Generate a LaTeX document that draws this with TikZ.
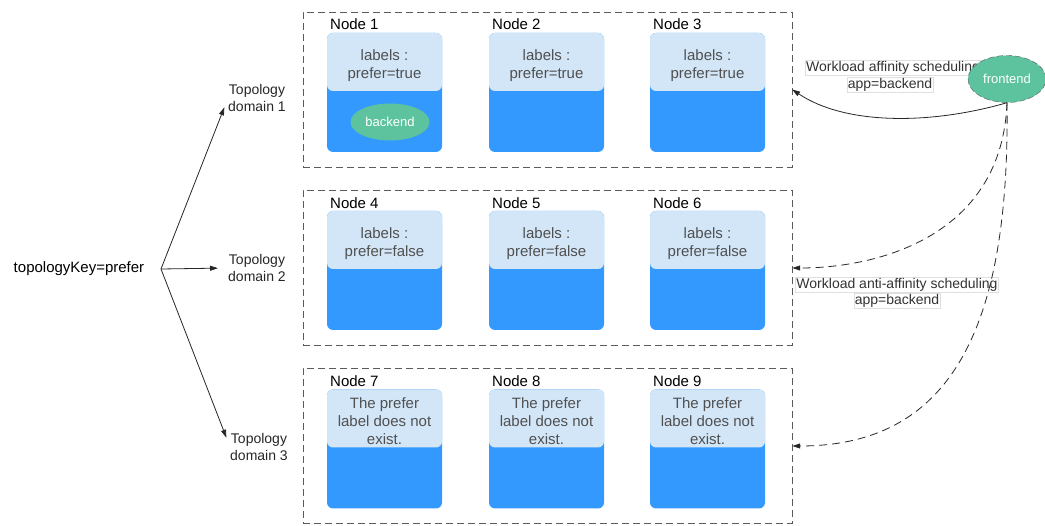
\documentclass[tikz,border=0pt]{standalone}
\usepackage{fontspec}
\setmainfont{Liberation Sans}
\usetikzlibrary{arrows.meta,shapes.geometric,positioning}
\definecolor{cardblue}{HTML}{3399FF}
\definecolor{toplight}{HTML}{D2E6F8}
\definecolor{podgreen}{HTML}{5CC39E}
\definecolor{txtgray}{HTML}{505050}
\definecolor{linegray}{HTML}{5A5A5A}
\tikzset{
  domainbox/.style={draw=linegray, dash pattern=on 7pt off 4pt, minimum width=489pt, minimum height=155pt, inner sep=0pt},
  card/.style={fill=cardblue, rounded corners=6pt, minimum width=115pt, minimum height=119pt, inner sep=0pt},
  cardtop/.style={fill=toplight, rounded corners=6pt, minimum width=115pt, minimum height=58pt, inner sep=0pt, anchor=north},
  cardlabel/.style={align=center, inner sep=0pt, yshift=-4pt, text=txtgray, font=\fontsize{15}{18}\selectfont},
  nodename/.style={anchor=west, inner sep=0pt, font=\fontsize{15}{18}\selectfont},
  podnode/.style={ellipse, fill=podgreen, text=white, font=\fontsize{13}{15}\selectfont, inner sep=0pt},
  schedlabel/.style={draw=gray!25, fill=white, inner sep=1pt, font=\fontsize{14}{16}\selectfont, text=black!80},
  toplabel/.style={align=center, inner sep=0pt, font=\fontsize{14}{17}\selectfont, text=black!85},
  arr/.style={-{Triangle[length=8pt,width=5pt]}, draw=black!85, line width=0.8pt},
  darr/.style={arr, dash pattern=on 8pt off 5pt}
}

\begin{document}
\begin{tikzpicture}[x=1pt, y=-1pt]
\useasboundingbox (0,0) rectangle (1045,526);
\draw (547.5,89.5) node (d1) [domainbox] {};
\draw (547.5,268)  node (d2) [domainbox] {};
\draw (547.5,446)  node (d3) [domainbox] {};

\draw (384.5,92.5) node (n1) [card] {};
\draw (546.5,92.5) node (n2) [card] {};
\draw (707.5,92.5) node (n3) [card] {};
\draw (n1.north) node (l1) [cardtop, label={[cardlabel]center:labels :\\prefer=true}] {};
\draw (n2.north) node (l2) [cardtop, label={[cardlabel]center:labels :\\prefer=true}] {};
\draw (n3.north) node (l3) [cardtop, label={[cardlabel]center:labels :\\prefer=true}] {};
\draw (330,24) node (name1) [nodename] {Node 1};
\draw (492,24) node (name2) [nodename] {Node 2};
\draw (653,24) node (name3) [nodename] {Node 3};
\draw (390,122) node (backend) [podnode, minimum width=79pt, minimum height=37pt] {backend};

\draw (384.5,270.5) node (n4) [card] {};
\draw (546.5,270.5) node (n5) [card] {};
\draw (707.5,270.5) node (n6) [card] {};
\draw (n4.north) node (l4) [cardtop, label={[cardlabel]center:labels :\\prefer=false}] {};
\draw (n5.north) node (l5) [cardtop, label={[cardlabel]center:labels :\\prefer=false}] {};
\draw (n6.north) node (l6) [cardtop, label={[cardlabel]center:labels :\\prefer=false}] {};
\draw (330,203) node (name4) [nodename] {Node 4};
\draw (492,203) node (name5) [nodename] {Node 5};
\draw (653,203) node (name6) [nodename] {Node 6};

\draw (384.5,449) node (n7) [card] {};
\draw (546.5,449) node (n8) [card] {};
\draw (707.5,449) node (n9) [card] {};
\draw (n7.north) node (l7) [cardtop, label={[cardlabel, yshift=1pt]center:The prefer\\label does not\\exist.}] {};
\draw (n8.north) node (l8) [cardtop, label={[cardlabel, yshift=1pt]center:The prefer\\label does not\\exist.}] {};
\draw (n9.north) node (l9) [cardtop, label={[cardlabel, yshift=1pt]center:The prefer\\label does not\\exist.}] {};
\draw (330,381) node (name7) [nodename] {Node 7};
\draw (492,381) node (name8) [nodename] {Node 8};
\draw (653,381) node (name9) [nodename] {Node 9};

\draw (79,269) node (key) [inner sep=0pt, font=\fontsize{15}{18}\selectfont] {topologyKey=prefer};
\coordinate (fork) at (161,269);
\draw (257,98)  node (t1) [toplabel] {Topology\\domain 1};
\draw (257,268) node (t2) [toplabel] {Topology\\domain 2};
\draw (259,447) node (t3) [toplabel] {Topology\\domain 3};
\draw [arr, shorten >=10pt] (fork) -- (t1.west);
\draw [arr, shorten >=10pt] (fork) -- (t2.west);
\draw [arr, shorten >=10pt] (fork) -- (t3.west);

\draw (893,68) node (aff1) [schedlabel] {Workload affinity scheduling};
\draw (890,85) node (aff2) [schedlabel] {app=backend};
\draw (897,285) node (anti1) [schedlabel] {Workload anti-affinity scheduling};
\draw (897,301) node (anti2) [schedlabel] {app=backend};
\draw (1007,79) node (frontend) [podnode, draw=linegray, dash pattern=on 6pt off 3pt, minimum width=78pt, minimum height=47pt] {frontend};

\draw [arr] (frontend.south) .. controls (930,125) and (845,125) .. (d1.east);
\draw [darr] (frontend.south) .. controls (1002,235) and (880,268) .. (d2.east);
\draw [darr] (frontend.south) .. controls (1010,330) and (950,446) .. (d3.east);
\end{tikzpicture}
\end{document}
